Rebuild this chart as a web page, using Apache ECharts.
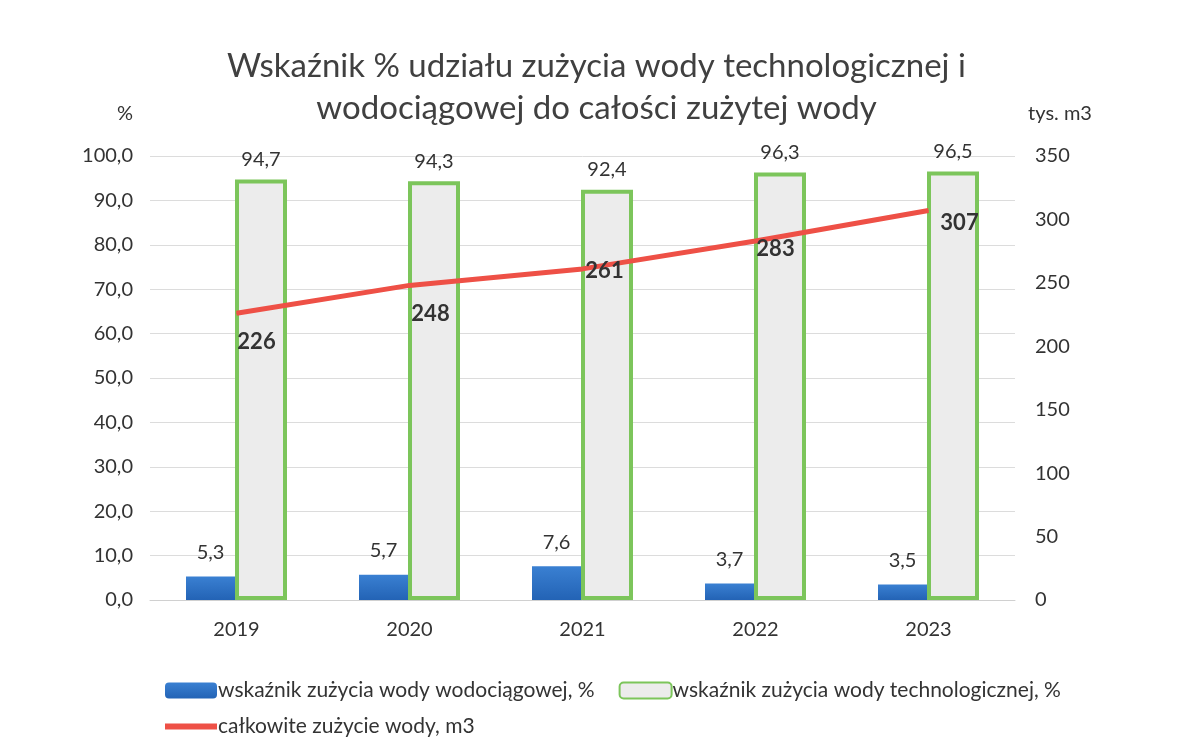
<!DOCTYPE html>
<html>
<head>
<meta charset="utf-8">
<script src="https://cdn.jsdelivr.net/npm/echarts@6/dist/echarts.min.js"></script>
<style>
  html, body { margin: 0; padding: 0; background: #fff; }
  #chart { width: 1193px; height: 754px; }
</style>
</head>
<body>
<div id="chart"></div>
<script>
  // dane
  var years = ['2019', '2020', '2021', '2022', '2023'];
  var wodociagowa = [5.3, 5.7, 7.6, 3.7, 3.5];
  var technologiczna = [94.7, 94.3, 92.4, 96.3, 96.5];
  var zuzycieCalkowite = [226, 248, 261, 283, 307];

  // przesunięcia etykiet linii (jak w oryginale)
  var lineLabelOffsets = [[20, 29], [21, 29], [22, 2], [20, 8], [31, 12]];

  var font = 'Lato, "Open Sans", sans-serif';
  var fmt = function (v) { return v.toFixed(1).replace('.', ','); };

  var myChart = echarts.init(document.getElementById('chart'));

  var option = {
    backgroundColor: '#fff',
    textStyle: { fontFamily: font },
    title: {
      text: 'Wskaźnik % udziału zużycia wody technologicznej i\nwodociągowej do całości zużytej wody',
      left: 'center',
      top: 40,
      textStyle: { fontFamily: font, fontSize: 33, fontWeight: 'normal', color: '#404040', lineHeight: 42 }
    },
    grid: { left: 150, right: 178, top: 156, bottom: 154 },
    legend: [
      {
        data: ['wskaźnik zużycia wody wodociągowej, %', 'wskaźnik zużycia wody technologicznej, %'],
        left: 160, top: 675,
        itemWidth: 52, itemHeight: 16, itemGap: 24,
        textStyle: { fontFamily: font, fontSize: 21, color: '#333', padding: [0, 0, 0, -4] }
      },
      {
        data: [{ name: 'całkowite zużycie wody, m3', icon: 'rect' }],
        left: 160, top: 711,
        itemWidth: 52, itemHeight: 6,
        textStyle: { fontFamily: font, fontSize: 21, color: '#333', padding: [0, 0, 0, -4] }
      }
    ],
    xAxis: {
      type: 'category',
      data: years,
      axisTick: { show: false },
      axisLine: { lineStyle: { color: '#d0d0d0' } },
      axisLabel: { fontSize: 20, color: '#333', margin: 20 }
    },
    yAxis: [
      {
        type: 'value',
        min: 0, max: 100, interval: 10,
        name: '%',
        nameLocation: 'end',
        nameGap: 32,
        nameTextStyle: { fontFamily: font, fontSize: 20, color: '#333', padding: [0, 50, 0, 0] },
        axisLabel: { fontSize: 20, color: '#333', margin: 17, formatter: fmt },
        splitLine: { lineStyle: { color: '#dcdcdc' } }
      },
      {
        type: 'value',
        min: 0, max: 350, interval: 50,
        name: 'tys. m3',
        nameLocation: 'end',
        nameGap: 32,
        nameTextStyle: { fontFamily: font, fontSize: 20, color: '#333', padding: [0, 0, 0, 90] },
        axisLabel: { fontSize: 20, color: '#333', margin: 20 },
        splitLine: { show: false }
      }
    ],
    series: [
      {
        name: 'wskaźnik zużycia wody wodociągowej, %',
        type: 'bar',
        data: wodociagowa,
        barWidth: 49,
        barGap: '0%',
        itemStyle: {
          color: new echarts.graphic.LinearGradient(0, 0, 0, 1, [
            { offset: 0, color: '#3a80d2' },
            { offset: 1, color: '#2363b5' }
          ])
        },
        label: { show: true, position: 'top', distance: 14, fontSize: 20, color: '#333', formatter: function (p) { return fmt(p.value); } }
      },
      {
        name: 'wskaźnik zużycia wody technologicznej, %',
        type: 'bar',
        data: technologiczna,
        barWidth: 52,
        itemStyle: { color: '#ececec', borderColor: '#7cc55b', borderWidth: 4 },
        label: { show: true, position: 'top', distance: 10, fontSize: 20, color: '#333', formatter: function (p) { return fmt(p.value); } }
      },
      {
        name: 'całkowite zużycie wody, m3',
        type: 'line',
        yAxisIndex: 1,
        data: zuzycieCalkowite.map(function (v, i) {
          return { value: v, label: { offset: lineLabelOffsets[i] } };
        }),
        symbol: 'circle',
        symbolSize: 1,
        showSymbol: true,
        lineStyle: { color: '#ee5046', width: 5 },
        itemStyle: { color: '#ee5046' },
        label: { show: true, position: 'inside', fontSize: 22, fontWeight: 'bold', color: '#333' },
        z: 5
      }
    ]
  };

  myChart.setOption(option);
</script>
</body>
</html>
